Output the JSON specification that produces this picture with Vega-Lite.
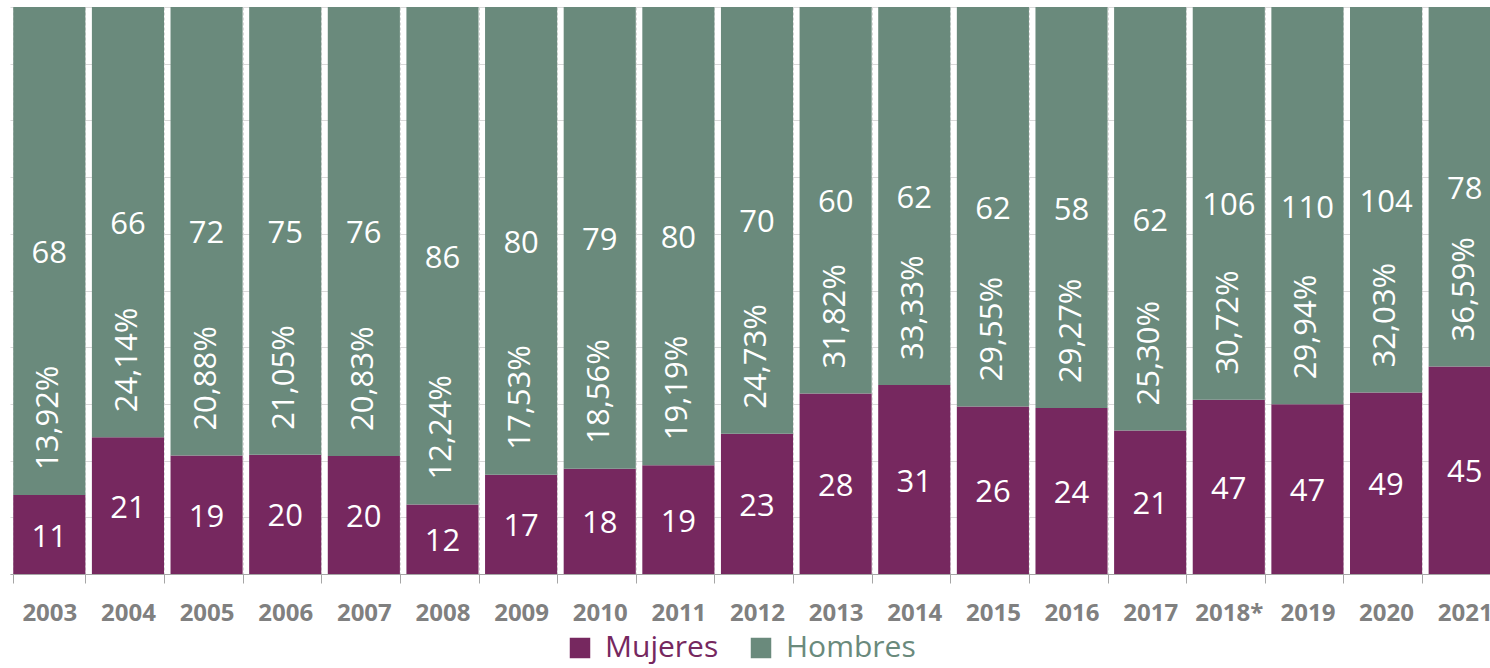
{
  "$schema": "https://vega.github.io/schema/vega-lite/v6.json",
  "autosize": {"type": "none"},
  "padding": {"left": 10, "top": 7, "right": 0, "bottom": 94},
  "width": 1480,
  "height": 567,
  "background": "white",
  "config": {
    "view": {"stroke": null},
    "font": "Open Sans"
  },
  "data": {
    "values": [
      {"anio": "2003", "sexo": "Mujeres", "n": 11, "orden": 1},
      {"anio": "2003", "sexo": "Hombres", "n": 68, "orden": 2, "pct": "13,92%"},
      {"anio": "2004", "sexo": "Mujeres", "n": 21, "orden": 1},
      {"anio": "2004", "sexo": "Hombres", "n": 66, "orden": 2, "pct": "24,14%"},
      {"anio": "2005", "sexo": "Mujeres", "n": 19, "orden": 1},
      {"anio": "2005", "sexo": "Hombres", "n": 72, "orden": 2, "pct": "20,88%"},
      {"anio": "2006", "sexo": "Mujeres", "n": 20, "orden": 1},
      {"anio": "2006", "sexo": "Hombres", "n": 75, "orden": 2, "pct": "21,05%"},
      {"anio": "2007", "sexo": "Mujeres", "n": 20, "orden": 1},
      {"anio": "2007", "sexo": "Hombres", "n": 76, "orden": 2, "pct": "20,83%"},
      {"anio": "2008", "sexo": "Mujeres", "n": 12, "orden": 1},
      {"anio": "2008", "sexo": "Hombres", "n": 86, "orden": 2, "pct": "12,24%"},
      {"anio": "2009", "sexo": "Mujeres", "n": 17, "orden": 1},
      {"anio": "2009", "sexo": "Hombres", "n": 80, "orden": 2, "pct": "17,53%"},
      {"anio": "2010", "sexo": "Mujeres", "n": 18, "orden": 1},
      {"anio": "2010", "sexo": "Hombres", "n": 79, "orden": 2, "pct": "18,56%"},
      {"anio": "2011", "sexo": "Mujeres", "n": 19, "orden": 1},
      {"anio": "2011", "sexo": "Hombres", "n": 80, "orden": 2, "pct": "19,19%"},
      {"anio": "2012", "sexo": "Mujeres", "n": 23, "orden": 1},
      {"anio": "2012", "sexo": "Hombres", "n": 70, "orden": 2, "pct": "24,73%"},
      {"anio": "2013", "sexo": "Mujeres", "n": 28, "orden": 1},
      {"anio": "2013", "sexo": "Hombres", "n": 60, "orden": 2, "pct": "31,82%"},
      {"anio": "2014", "sexo": "Mujeres", "n": 31, "orden": 1},
      {"anio": "2014", "sexo": "Hombres", "n": 62, "orden": 2, "pct": "33,33%"},
      {"anio": "2015", "sexo": "Mujeres", "n": 26, "orden": 1},
      {"anio": "2015", "sexo": "Hombres", "n": 62, "orden": 2, "pct": "29,55%"},
      {"anio": "2016", "sexo": "Mujeres", "n": 24, "orden": 1},
      {"anio": "2016", "sexo": "Hombres", "n": 58, "orden": 2, "pct": "29,27%"},
      {"anio": "2017", "sexo": "Mujeres", "n": 21, "orden": 1},
      {"anio": "2017", "sexo": "Hombres", "n": 62, "orden": 2, "pct": "25,30%"},
      {"anio": "2018*", "sexo": "Mujeres", "n": 47, "orden": 1},
      {"anio": "2018*", "sexo": "Hombres", "n": 106, "orden": 2, "pct": "30,72%"},
      {"anio": "2019", "sexo": "Mujeres", "n": 47, "orden": 1},
      {"anio": "2019", "sexo": "Hombres", "n": 110, "orden": 2, "pct": "29,94%"},
      {"anio": "2020", "sexo": "Mujeres", "n": 49, "orden": 1},
      {"anio": "2020", "sexo": "Hombres", "n": 104, "orden": 2, "pct": "32,03%"},
      {"anio": "2021", "sexo": "Mujeres", "n": 45, "orden": 1},
      {"anio": "2021", "sexo": "Hombres", "n": 78, "orden": 2, "pct": "36,59%"}
    ]
  },
  "transform": [
    {"stack": "n", "groupby": ["anio"], "sort": [{"field": "orden", "order": "ascending"}], "offset": "normalize", "as": ["y0", "y1"]}
  ],
  "encoding": {
    "x": {
      "field": "anio",
      "type": "nominal",
      "sort": null,
      "scale": {"range": [0, 1494], "paddingInner": 0.083, "paddingOuter": 0.0415},
      "axis": {
        "title": null,
        "labelAngle": 0,
        "labelFont": "Open Sans",
        "labelFontSize": 24,
        "labelFontWeight": "bold",
        "labelColor": "#808080",
        "labelPadding": 18,
        "tickBand": "extent",
        "tickSize": 9,
        "tickColor": "#A6A6A6",
        "domainColor": "#A6A6A6",
        "grid": true,
        "gridColor": "#D9D9D9",
        "gridDash": [3, 2],
        "gridWidth": 1
      }
    }
  },
  "layer": [
    {
      "mark": {"type": "bar"},
      "encoding": {
        "y": {
          "field": "y0",
          "type": "quantitative",
          "scale": {"domain": [0, 1], "nice": false},
          "axis": {
            "title": null,
            "labels": false,
            "ticks": false,
            "domain": false,
            "values": [0, 0.1, 0.2, 0.3, 0.4, 0.5, 0.6, 0.7, 0.8, 0.9, 1],
            "gridColor": "#D9D9D9",
            "gridWidth": 1
          }
        },
        "y2": {"field": "y1"},
        "color": {
          "field": "sexo",
          "type": "nominal",
          "scale": {"domain": ["Mujeres", "Hombres"], "range": ["#76285F", "#6A8A7C"]},
          "legend": {
            "title": null,
            "orient": "none",
            "direction": "horizontal",
            "legendX": 555,
            "legendY": 626,
            "symbolType": "square",
            "symbolSize": 420,
            "symbolStrokeWidth": 0,
            "symbolOpacity": 1,
            "labelFont": "Open Sans",
            "labelFontSize": 30,
            "labelOffset": 10,
            "columnPadding": 27,
            "encode": {
              "labels": {"update": {"fill": {"scale": "color", "field": "value"}}}
            }
          }
        }
      }
    },
    {
      "transform": [{"filter": "datum.sexo === 'Hombres'"}],
      "mark": {"type": "text", "angle": 270, "align": "left", "baseline": "middle", "dx": 25, "color": "white", "font": "Open Sans", "fontSize": 31},
      "encoding": {
        "y": {"field": "y0", "type": "quantitative"},
        "text": {"field": "pct", "type": "nominal"}
      }
    },
    {
      "transform": [{"fold": ["y0", "y1"], "as": ["extremo", "valor"]}],
      "mark": {"type": "text", "align": "center", "baseline": "middle", "dy": 3, "color": "white", "font": "Open Sans", "fontSize": 31},
      "encoding": {
        "y": {"field": "valor", "type": "quantitative", "aggregate": "mean"},
        "detail": {"field": "sexo", "type": "nominal"},
        "text": {"field": "n", "type": "quantitative", "aggregate": "max"}
      }
    }
  ]
}
